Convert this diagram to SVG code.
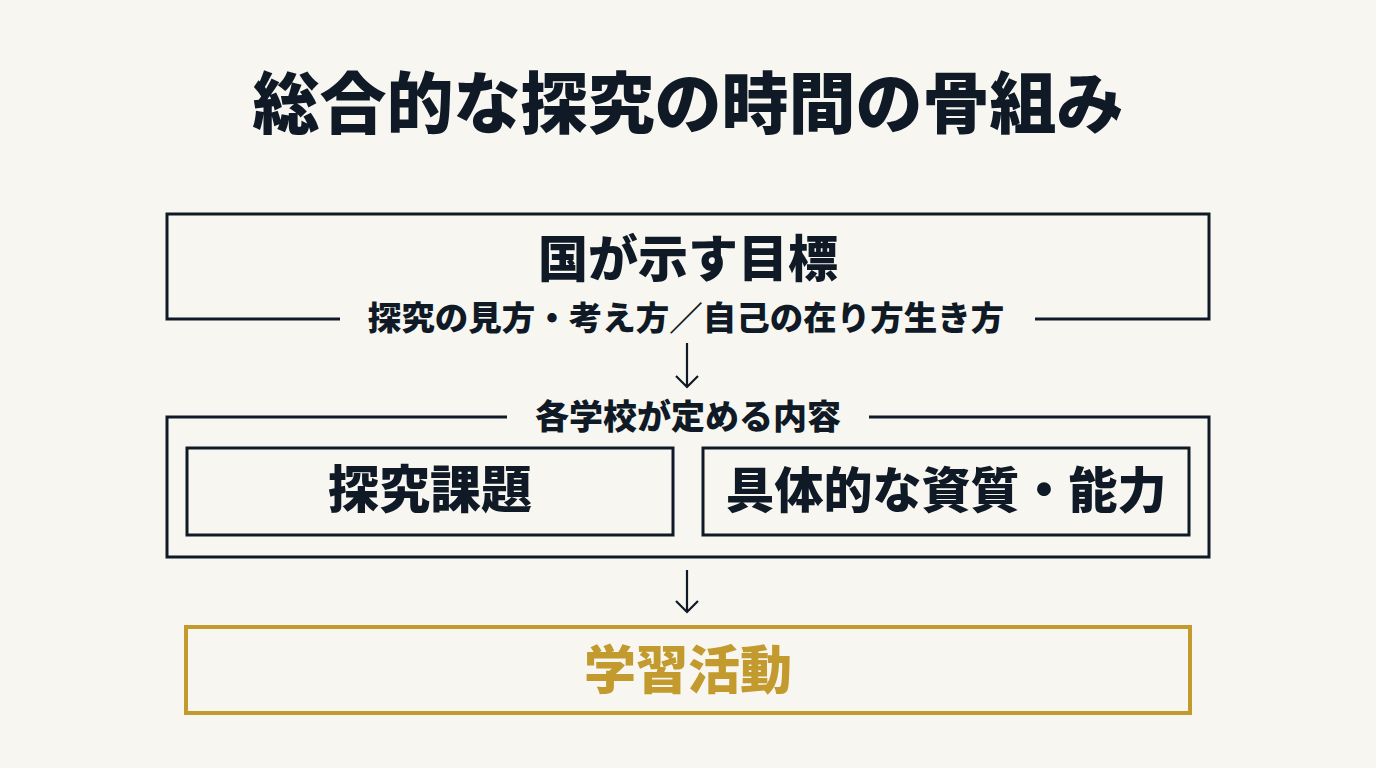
<svg xmlns="http://www.w3.org/2000/svg" width="1376" height="768" viewBox="0 0 1376 768">
<defs>
<style>
.t{font-family:"Noto Sans CJK JP","Noto Sans CJK SC",sans-serif;font-weight:900;fill:#0f1a26;text-anchor:middle}
.box{fill:none;stroke:#0f1a26;stroke-width:3}
.ln{fill:none;stroke:#0f1a26;stroke-width:3}
.arr{fill:none;stroke:#0f1a26;stroke-width:2.2}
</style>
</defs>
<rect width="1376" height="768" fill="#f8f6f0"/>
<text class="t" x="688" y="128" font-size="67">総合的な探究の時間の骨組み</text>

<g id="national-goal">
<path class="ln" d="M340,319 H167 V214 H1209 V319 H1035"/>
<text class="t" x="688" y="277" font-size="50">国が示す目標</text>
<text class="t" x="686" y="330" font-size="33.5">探究の見方・考え方／自己の在り方生き方</text>
</g>

<g id="school-content">
<path class="ln" d="M507,417 H167 V557 H1209 V417 H869"/>
<text class="t" x="688" y="429" font-size="34">各学校が定める内容</text>
</g>

<g id="task">
<rect class="box" x="187" y="448" width="486" height="87"/>
<text class="t" x="430" y="508" font-size="51">探究課題</text>
</g>

<g id="ability">
<rect class="box" x="703" y="448" width="486" height="87"/>
<text class="t" x="946" y="508" font-size="49">具体的な資質・能力</text>
</g>

<g id="activity">
<rect x="186" y="627" width="1004" height="86" fill="none" stroke="#c39a2e" stroke-width="4"/>
<text class="t" x="688" y="689" font-size="52" style="fill:#c39a2e">学習活動</text>
</g>

<g id="connectors">
<path class="arr" d="M687,343 V387 M676,376 L687,387 L698,376"/>
<path class="arr" d="M687,570 V612 M676,601 L687,612 L698,601"/>
</g>
</svg>
